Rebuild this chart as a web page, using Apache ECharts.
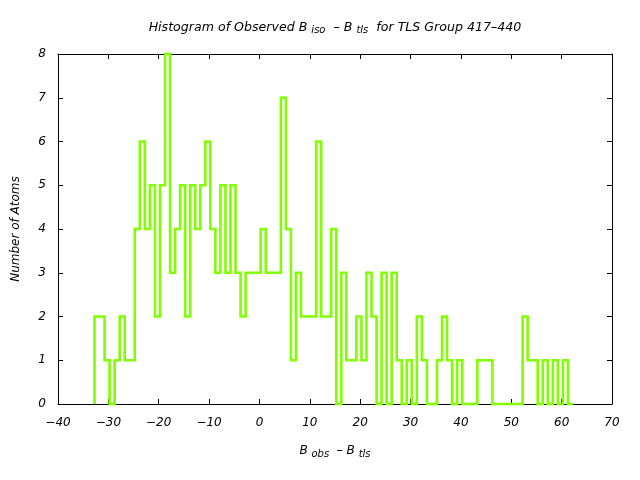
<!DOCTYPE html>
<html>
<head>
<meta charset="utf-8">
<script src="https://cdn.jsdelivr.net/npm/echarts@6/dist/echarts.min.js"></script>
<style>
html,body{margin:0;padding:0;background:#fff;}
#chart{width:640px;height:480px;}
</style>
</head>
<body>
<div id="chart"></div>
<script>
// Histogram data (bin counts, first bin left edge, bin width)
var binStart = -32.75;
var binWidth = 1.0;
var counts = [
  2,2,1,0,1,2,1,1,4,6,
  4,5,2,5,8,3,4,5,2,5,
  4,5,6,4,3,5,3,5,3,2,
  3,3,3,4,3,3,3,7,4,1,
  3,2,2,2,6,2,2,4,0,3,
  1,1,2,1,3,2,0,3,0,3,
  1,0,1,0,2,1,0,0,1,2,
  1,0,1,0,0,0,1,1,1,0,
  0,0,0,0,0,2,1,1,0,1,
  0,1,0,1,0
];
var xTicks = [-40, -30, -20, -10, 0, 10, 20, 30, 40, 50, 60, 70];
var yTicks = [0, 1, 2, 3, 4, 5, 6, 7, 8];

// outline of the histogram built from the arrays
var outline = [[binStart, 0]];
for (var i = 0; i < counts.length; i++) {
  var l = binStart + i * binWidth, r = l + binWidth;
  outline.push([l, counts[i]]);
  outline.push([r, counts[i]]);
}
outline.push([binStart + counts.length * binWidth, 0]);

var FONT = 'DejaVu Sans';
function fmt(v) { return String(v).replace('-', '\u2212'); }
function richStyles(size) {
  return {
    n: {fontFamily: FONT, fontStyle: 'italic', fontWeight: 'normal', fontSize: size, color: '#000', lineHeight: 14, verticalAlign: 'top'},
    s: {fontFamily: FONT, fontStyle: 'italic', fontWeight: 'normal', fontSize: 10, color: '#000', lineHeight: 12, verticalAlign: 'bottom', padding: [6, 0, 0, 0]}
  };
}
var chart = echarts.init(document.getElementById('chart'), null, {renderer: 'canvas'});
var tickStyle = {show: true, inside: true, length: 5, lineStyle: {color: '#000', width: 1}};
chart.setOption({
  backgroundColor: '#fff',
  animation: false,
  title: {
    text: '{n|Histogram of Observed B }{s|iso}{n|  \u2013 B }{s|tls}{n|  for TLS Group 417\u2013440}',
    left: 330,
    textAlign: 'center',
    top: 16,
    textStyle: {fontWeight: 'normal', rich: richStyles(12.6)}
  },
  grid: {left: 58, right: 28, top: 54, bottom: 76, containLabel: false},
  xAxis: [{
    type: 'value', min: xTicks[0], max: xTicks[xTicks.length - 1], interval: 10,
    position: 'bottom',
    axisLine: {show: true, onZero: false, lineStyle: {color: '#000', width: 1}},
    axisTick: tickStyle,
    splitLine: {show: false},
    axisLabel: {fontFamily: FONT, fontStyle: 'italic', fontSize: 12, color: '#000', margin: 13, formatter: fmt},
    name: '{n|B }{s|obs}{n|  \u2013 B }{s|tls}',
    nameLocation: 'middle', nameGap: 41,
    nameTextStyle: {rich: richStyles(12)}
  }, {
    type: 'value', min: xTicks[0], max: xTicks[xTicks.length - 1], interval: 10,
    position: 'top',
    axisLine: {show: true, onZero: false, lineStyle: {color: '#000', width: 1}},
    axisTick: tickStyle, axisLabel: {show: false}, splitLine: {show: false}
  }],
  yAxis: [{
    type: 'value', min: yTicks[0], max: yTicks[yTicks.length - 1], interval: 1,
    position: 'left',
    axisLine: {show: true, onZero: false, lineStyle: {color: '#000', width: 1}},
    axisTick: tickStyle,
    splitLine: {show: false},
    axisLabel: {fontFamily: FONT, fontStyle: 'italic', fontSize: 12, color: '#000', margin: 12},
    name: 'Number of Atoms',
    nameLocation: 'middle', nameGap: 36, nameRotate: 90,
    nameTextStyle: {fontFamily: FONT, fontStyle: 'italic', fontSize: 12, color: '#000'}
  }, {
    type: 'value', min: yTicks[0], max: yTicks[yTicks.length - 1], interval: 1,
    position: 'right',
    axisLine: {show: true, onZero: false, lineStyle: {color: '#000', width: 1}},
    axisTick: tickStyle, axisLabel: {show: false}, splitLine: {show: false}
  }],
  series: [{
    type: 'line',
    data: outline,
    xAxisIndex: 0, yAxisIndex: 0,
    showSymbol: false, symbol: 'none',
    clip: false,
    z: 5,
    lineStyle: {color: '#7fff00', width: 2.6, join: 'miter', cap: 'butt'}
  }]
});
</script>
</body>
</html>
